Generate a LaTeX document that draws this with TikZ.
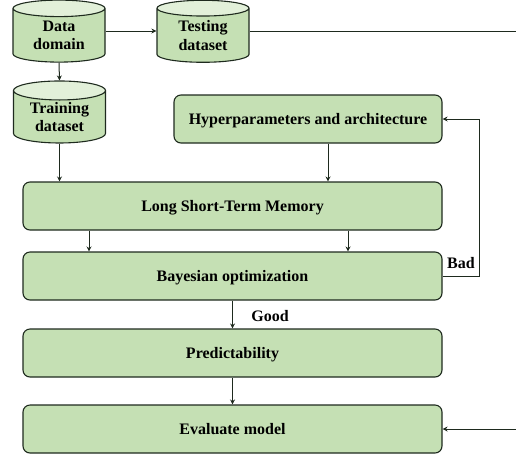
\documentclass[tikz,border=0pt]{standalone}
\usepackage{fontspec}
\setmainfont{Liberation Serif}
\usetikzlibrary{shapes.geometric,arrows.meta}
\definecolor{boxgreen}{HTML}{C5E0B4}
\definecolor{topgreen}{HTML}{E2F0D9}
\definecolor{inkline}{HTML}{1E2A1E}
\tikzset{
  x=1pt,y=-1pt,
  txt/.style={font=\fontsize{16}{18.5}\selectfont\bfseries,text=black,align=center},
  flowbox/.style={txt,draw=inkline,line width=1.1pt,fill=boxgreen,rounded corners=7pt,inner sep=0pt,text height=15pt,text depth=3.5pt},
  store/.style={txt,draw=inkline,line width=1.1pt,cylinder,shape border rotate=90,aspect=0.32,
    cylinder uses custom fill,cylinder body fill=boxgreen,cylinder end fill=topgreen,
    minimum width=92pt,minimum height=62pt,inner sep=0pt},
  link/.style={draw=inkline,line width=1pt,-{Stealth[length=5pt,width=5pt]}},
  plain/.style={draw=inkline,line width=1pt},
  tag/.style={txt,inner sep=0pt}
}
\begin{document}
\begin{tikzpicture}
\useasboundingbox (0,0) rectangle (516,456);
\node[store] (data) at (59,35.5) {Data\\domain};
\node[store] (test) at (203,35.5) {Testing\\dataset};
\node[store] (train) at (59.5,117) {Training\\dataset};
\node[flowbox,minimum width=268pt,minimum height=48pt] (hyper) at (308,119) {Hyperparameters and architecture};
\node[flowbox,minimum width=419pt,minimum height=48pt] (lstm) at (232.5,206) {Long Short-Term Memory};
\node[flowbox,minimum width=419pt,minimum height=48pt] (bayes) at (232.5,276) {Bayesian optimization};
\node[flowbox,minimum width=419pt,minimum height=48pt] (pred) at (232.5,353) {Predictability};
\node[flowbox,minimum width=419pt,minimum height=48pt] (eval) at (232.5,429) {Evaluate model};
\node[tag] (good) at (270,316) {Good};
\node[tag] (bad) at (461,263) {Bad};
\coordinate (outtop) at (516,31);
\coordinate (outbot) at (516,429);
\coordinate (turn) at (479,119);
\draw[link] (data.east |- outtop) -- (test.west |- outtop);
\draw[plain] (test.east |- outtop) -- (outtop);
\draw[link] (data.south) -- (train.north);
\draw[link] (train.south) -- (train.south |- lstm.north);
\draw[link] ([xshift=20pt]hyper.south) -- ([xshift=20pt]hyper.south |- lstm.north);
\draw[link] ([xshift=-143.5pt]lstm.south) -- ([xshift=-143.5pt]bayes.north);
\draw[link] ([xshift=115.5pt]lstm.south) -- ([xshift=115.5pt]bayes.north);
\draw[link] (bayes.south) -- (pred.north);
\draw[link] (pred.south) -- (eval.north);
\draw[link] (outbot) -- (eval.east);
\draw[link] (bayes.east) -| (turn) -- (hyper.east);
\end{tikzpicture}
\end{document}
